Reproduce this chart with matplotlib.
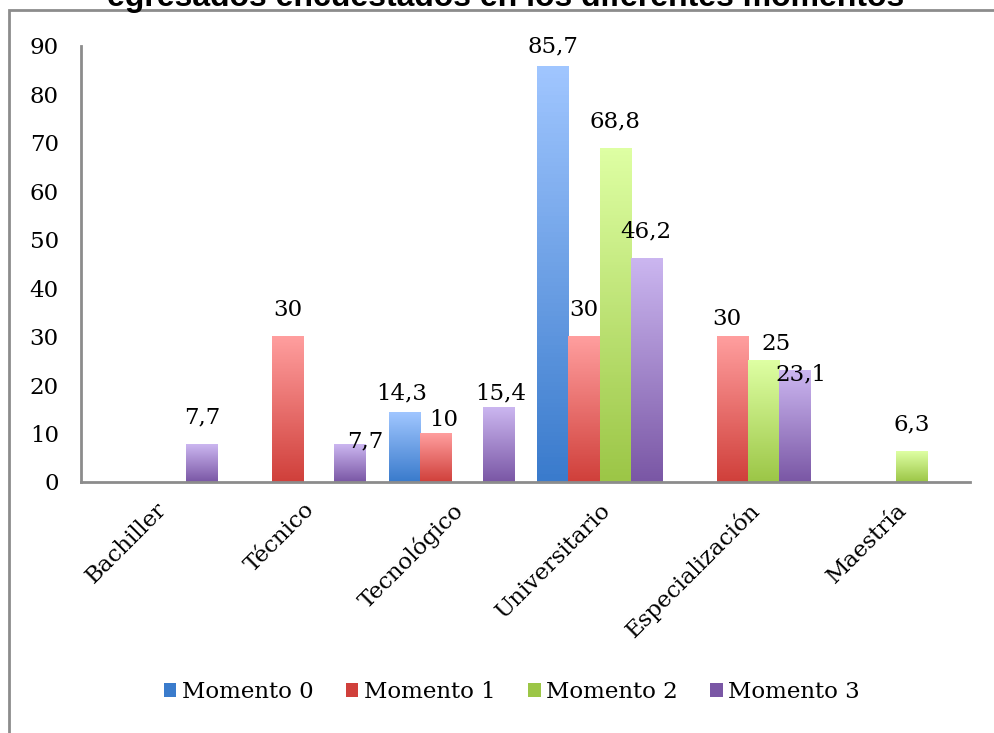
import matplotlib.pyplot as plt
import numpy as np
from matplotlib.colors import LinearSegmentedColormap
from matplotlib.patches import Patch, Rectangle

# datos
categorias = ["Bachiller", "Técnico", "Tecnológico", "Universitario",
              "Especialización", "Maestría"]
series = ["Momento 0", "Momento 1", "Momento 2", "Momento 3"]
nan = np.nan
momento0 = [nan, nan, 14.3, 85.7, nan, nan]
momento1 = [nan, 30, 10, 30, 30, nan]
momento2 = [nan, nan, nan, 68.8, 25, 6.3]
momento3 = [7.7, 7.7, 15.4, 46.2, 23.1, nan]
yticks = [0, 10, 20, 30, 40, 50, 60, 70, 80, 90]

# gradient colours (top, bottom)
colores = [("#A0C6FF", "#3A7BCC"), ("#FF9E9E", "#D0403B"),
           ("#DEFFA3", "#9CC647"), ("#CBB6F0", "#7A57A5")]

# label offsets in px (dx, dy above bar top), default (0, 27)
offsets = {(0, 2): (-3, 19), (1, 2): (8, 14), (3, 2): (3, 14),
           (3, 1): (15, 3), (0, 3): (0, 20),
           (1, 4): (-5, 18), (2, 4): (13, 17), (3, 4): (7, -4)}

plt.rcParams['font.family'] = ['DejaVu Serif']
fs = 16.5

fig = plt.figure(figsize=(9.95, 7.33), dpi=100)
ax = fig.add_axes([81/995, 1-482/733, (970-81)/995, (482-46)/733])

x = np.arange(len(categorias))
w = 0.21
datos = [momento0, momento1, momento2, momento3]
for i, vals in enumerate(datos):
    vals = np.array(vals, dtype=float)
    bars = ax.bar(x + (i - 1.5) * w, np.nan_to_num(vals), w, color="none",
                  edgecolor="none")
    cmap = LinearSegmentedColormap.from_list("g%d" % i, [colores[i][1], colores[i][0]])
    grad = np.linspace(0, 1, 100).reshape(-1, 1)
    for j, b in enumerate(bars):
        v = vals[j]
        if np.isnan(v):
            continue
        bx, bw, bh = b.get_x(), b.get_width(), b.get_height()
        ax.imshow(grad, extent=[bx, bx + bw, 0, bh], origin="lower",
                  aspect="auto", cmap=cmap, zorder=2)
        txt = ("%g" % v).replace(".", ",")
        dx, dy = offsets.get((i, j), (0, 27))
        ax.annotate(txt, (bx + bw / 2, bh), xytext=(dx * 0.72, dy * 0.72),
                    textcoords="offset points", ha="center", va="center",
                    fontsize=fs, zorder=3)

ax.set_xlim(-0.5, 5.5)
ax.set_ylim(0, 90)
ax.set_yticks(yticks)
ax.set_xticks(x)
ax.set_xticklabels(categorias, rotation=45, ha="right", va="top",
                   rotation_mode="anchor", fontsize=fs)
ax.tick_params(axis="y", labelsize=fs, length=0, pad=16)
ax.tick_params(axis="x", length=0, pad=12)
for s in ["top", "right"]:
    ax.spines[s].set_visible(False)
for s in ["left", "bottom"]:
    ax.spines[s].set_color("#8c8c8c")
    ax.spines[s].set_linewidth(2)

handles = [Patch(facecolor=c[1], edgecolor="none", label=s)
           for c, s in zip(colores, series)]
fig.legend(handles=handles, loc="center", bbox_to_anchor=(512/995, 1-692/733),
           ncol=4, frameon=False, fontsize=fs, handlelength=0.55,
           handleheight=0.55, handletextpad=0.25, columnspacing=1.4)

# chart border
fig.patches.append(Rectangle((9/995, -0.1), 1.2, 1 - 10/733 + 0.1,
                             transform=fig.transFigure, fill=False,
                             edgecolor="#8c8c8c", linewidth=2))

# cut-off title
fig.text(506/995, 1 - 6/733, "egresados encuestados en los diferentes momentos",
         ha="center", va="baseline", fontsize=23, fontweight="bold",
         family="Liberation Sans")

fig.savefig("out.png", dpi=100)
